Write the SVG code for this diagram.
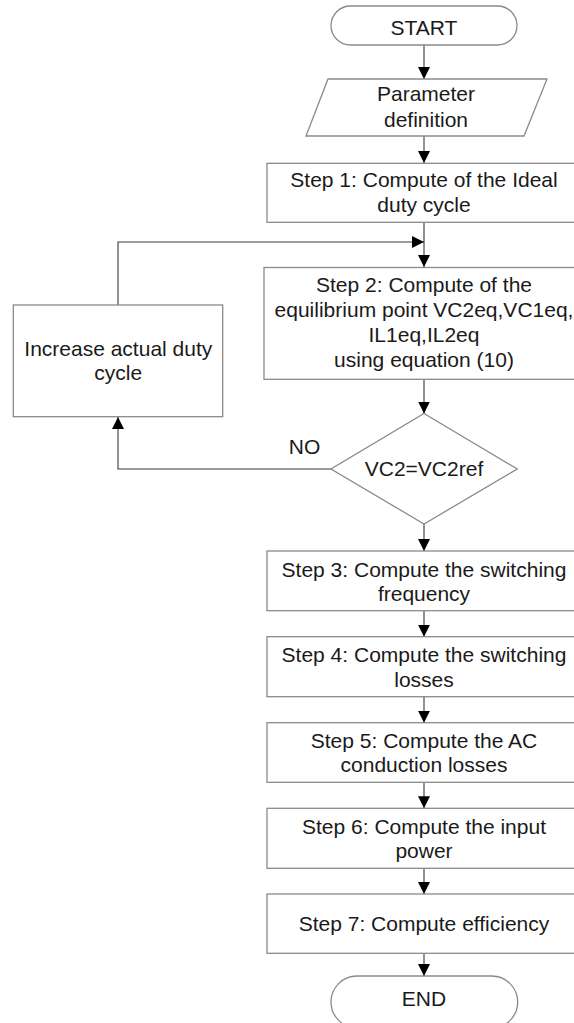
<svg xmlns="http://www.w3.org/2000/svg" width="574" height="1023" viewBox="0 0 574 1023">
<style>
.b{fill:#fff;stroke:#8a8a8a;stroke-width:1.3}
.t{font-family:"Liberation Sans",Arial,sans-serif;font-size:21px;fill:#1a1a1a;text-anchor:middle}
.c{fill:none;stroke:#3a3a3a;stroke-width:1.1}
</style>
<defs>
<marker id="ah" viewBox="0 0 12 12" refX="12" refY="6" markerWidth="12" markerHeight="12" markerUnits="userSpaceOnUse" orient="auto">
<path d="M0,0 L12,6 L0,12 z" fill="#000"/>
</marker>
</defs>
<rect width="574" height="1023" fill="#fff"/>
<g id="connectors">
<path class="c" d="M424,45 V79" marker-end="url(#ah)"/>
<path class="c" d="M424,136 V163" marker-end="url(#ah)"/>
<path class="c" d="M424,222 V267" marker-end="url(#ah)"/>
<path class="c" d="M118,305 V242 H424" marker-end="url(#ah)"/>
<path class="c" d="M424,379 V413.5" marker-end="url(#ah)"/>
<path class="c" d="M331,469 H118 V417" marker-end="url(#ah)"/>
<path class="c" d="M424,524 V551" marker-end="url(#ah)"/>
<path class="c" d="M424,610.7 V636.7" marker-end="url(#ah)"/>
<path class="c" d="M424,696.7 V722.7" marker-end="url(#ah)"/>
<path class="c" d="M424,782.3 V808.3" marker-end="url(#ah)"/>
<path class="c" d="M424,868.3 V894" marker-end="url(#ah)"/>
<path class="c" d="M424,953.3 V976" marker-end="url(#ah)"/>
<text class="t" x="304.5" y="453.5">NO</text>
</g>
<g id="start">
<rect class="b" x="331" y="6" width="186" height="39" rx="19.5"/>
<text class="t" x="424" y="35">START</text>
</g>
<g id="params">
<polygon class="b" points="328,79 547,79 524,136 306,136"/>
<text class="t" x="426" y="101">Parameter</text>
<text class="t" x="426" y="127">definition</text>
</g>
<g id="step1">
<rect class="b" x="267" y="163.3" width="320" height="59"/>
<text class="t" x="424" y="187">Step 1: Compute of the Ideal</text>
<text class="t" x="424" y="211.5">duty cycle</text>
</g>
<g id="step2">
<rect class="b" x="264" y="267.5" width="326" height="111.8"/>
<text class="t" x="424" y="292">Step 2: Compute of the</text>
<text class="t" x="424" y="317">equilibrium point VC2eq,VC1eq,</text>
<text class="t" x="424" y="342">IL1eq,IL2eq</text>
<text class="t" x="424" y="367">using equation (10)</text>
</g>
<g id="increase">
<rect class="b" x="13.3" y="305" width="209.4" height="111.7"/>
<text class="t" x="118.3" y="355.5">Increase actual duty</text>
<text class="t" x="118.3" y="380">cycle</text>
</g>
<g id="decision">
<polygon class="b" points="424,413.5 517.3,469 424,524 331,469"/>
<text class="t" x="424" y="475.5">VC2=VC2ref</text>
</g>
<g id="step3">
<rect class="b" x="267" y="551" width="320" height="59.7"/>
<text class="t" x="424" y="576.5">Step 3: Compute the switching</text>
<text class="t" x="424" y="601">frequency</text>
</g>
<g id="step4">
<rect class="b" x="267" y="636.7" width="320" height="60"/>
<text class="t" x="424" y="662">Step 4: Compute the switching</text>
<text class="t" x="424" y="686.5">losses</text>
</g>
<g id="step5">
<rect class="b" x="267" y="722.7" width="320" height="59.6"/>
<text class="t" x="424" y="747.5">Step 5: Compute the AC</text>
<text class="t" x="424" y="772">conduction losses</text>
</g>
<g id="step6">
<rect class="b" x="267" y="808.3" width="320" height="60"/>
<text class="t" x="424" y="833.5">Step 6: Compute the input</text>
<text class="t" x="424" y="858">power</text>
</g>
<g id="step7">
<rect class="b" x="267" y="894" width="320" height="59.3"/>
<text class="t" x="424" y="930.5">Step 7: Compute efficiency</text>
</g>
<g id="end">
<rect class="b" x="331" y="976" width="186.7" height="52" rx="26"/>
<text class="t" x="424" y="1006">END</text>
</g>
</svg>
